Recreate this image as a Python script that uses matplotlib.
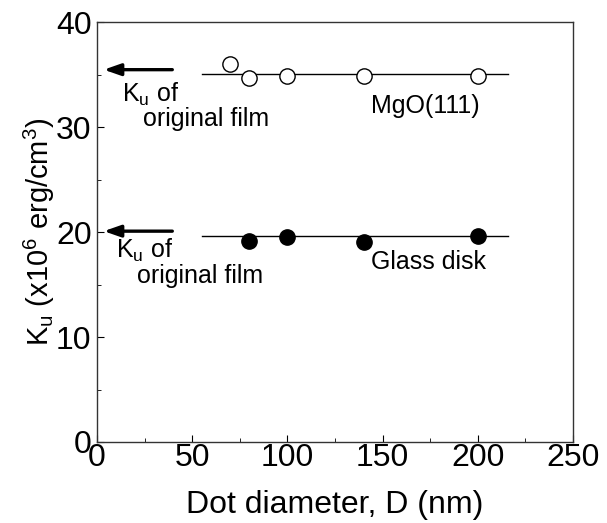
import matplotlib
matplotlib.use("Agg")
import matplotlib.pyplot as plt

plt.rcParams['font.family'] = ['Liberation Sans', 'DejaVu Sans']
plt.rcParams['mathtext.fontset'] = 'custom'
plt.rcParams['mathtext.rm'] = 'Liberation Sans'
plt.rcParams['mathtext.it'] = 'Liberation Sans'

# MgO(111) substrate (open circles)
mgo_d = [70, 80, 100, 140, 200]
mgo_ku = [36.0, 34.7, 34.9, 34.9, 34.9]
mgo_fit = 35.1

# Glass disk (filled circles)
glass_d = [80, 100, 140, 200]
glass_ku = [19.2, 19.5, 19.1, 19.6]
glass_fit = 19.6

# Ku of original films (arrows)
orig_mgo = 35.5
orig_glass = 20.1

fig = plt.figure(figsize=(6.07, 5.23), dpi=100)
ax = fig.add_axes([0.160, 0.155, 0.784, 0.802])

ax.plot([55, 216], [mgo_fit, mgo_fit], color='black', lw=1.0)
ax.plot([55, 216], [glass_fit, glass_fit], color='black', lw=1.0)
ax.plot(mgo_d, mgo_ku, 'o', ms=11, mfc='white', mec='black', mew=1.0)
ax.plot(glass_d, glass_ku, 'o', ms=11, mfc='black', mec='black', mew=1.0)

for y in [orig_mgo, orig_glass]:
    ax.annotate('', xy=(3.5, y), xytext=(39.5, y),
                arrowprops=dict(arrowstyle='-|>,head_length=1.0,head_width=0.35',
                                color='black', lw=2.4, shrinkA=0, shrinkB=0))

fs = 18
ax.text(13.0, 32.4, r'K$_\mathregular{u}$ of', fontsize=fs, va='baseline')
ax.text(24.2, 30.1, 'original film', fontsize=fs, va='baseline')
ax.text(10.0, 17.6, r'K$_\mathregular{u}$ of', fontsize=fs, va='baseline')
ax.text(20.9, 15.2, 'original film', fontsize=fs, va='baseline')
ax.text(143.9, 31.4, 'MgO(111)', fontsize=fs, va='baseline')
ax.text(143.9, 16.5, 'Glass disk', fontsize=fs, va='baseline')

ax.set_xlim(0, 250)
ax.set_ylim(0, 40)
ax.set_xticks([0, 50, 100, 150, 200, 250])
ax.set_xticks([25, 75, 125, 175, 225], minor=True)
ax.set_yticks([0, 10, 20, 30, 40])
ax.set_yticks([5, 15, 25, 35], minor=True)
ax.tick_params(which='both', direction='in', top=False, right=False, labelsize=23)
ax.tick_params(axis='x', pad=1)
ax.tick_params(axis='y', pad=4)
ax.tick_params(which='major', length=5)
ax.tick_params(which='minor', length=3)
for s in ax.spines.values():
    s.set_linewidth(1.0)
    s.set_color('#333333')

ax.set_xlabel('Dot diameter, D (nm)', fontsize=23, labelpad=12)
ax.set_ylabel(r'K$_\mathregular{u}$ (x10$^\mathregular{6}$ erg/cm$^\mathregular{3}$)', fontsize=21, labelpad=-1)

fig.savefig('out.png', dpi=100)
